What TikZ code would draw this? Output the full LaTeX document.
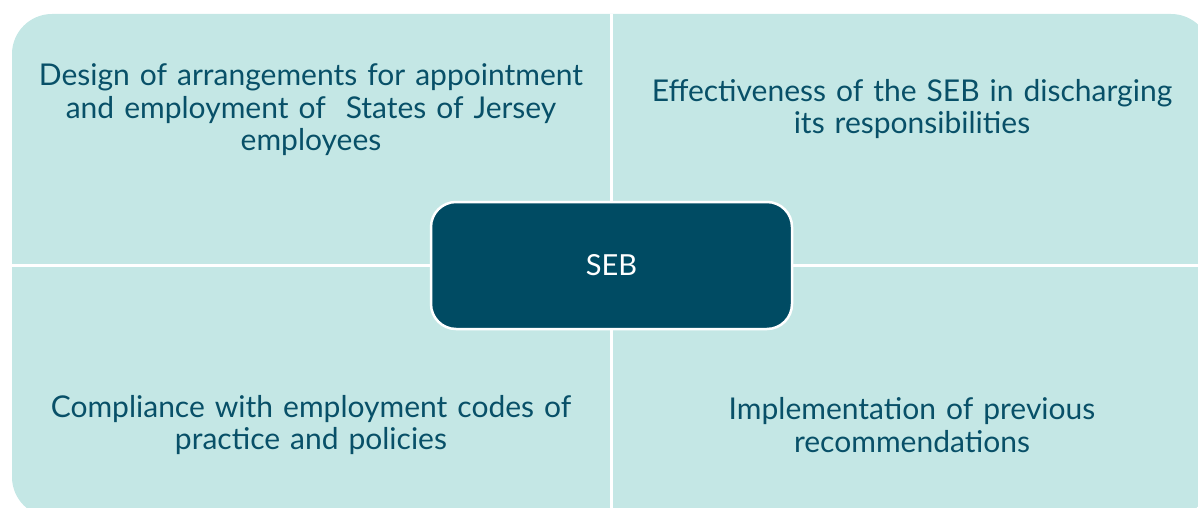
\documentclass[tikz,border=0pt]{standalone}
\usepackage{fontspec}
\setmainfont{Lato}
\usepackage{xcolor}
\usepackage{tikz}
\usetikzlibrary{positioning}
\definecolor{sebpale}{RGB}{196,231,229}
\definecolor{sebdark}{RGB}{0,75,99}
\definecolor{sebtext}{RGB}{8,80,104}

\begin{document}
\begin{tikzpicture}[
    x=1pt,
    y=-1pt,
    font=\fontsize{30}{32.5}\selectfont,
    panel/.style={fill=sebpale, rounded corners=40pt, minimum width=1199pt, minimum height=503pt, inner sep=0pt},
    gap/.style={draw=white, line width=3pt},
    quadtext/.style={text=sebtext, align=center, text width=580pt},
    hub/.style={fill=sebdark, draw=white, line width=2.5pt, rounded corners=25pt, minimum width=361pt, minimum height=127pt, text=white, font=\fontsize{29}{32}\selectfont}
]
\useasboundingbox (0,0) rectangle (1198,508);
\clip (0,0) rectangle (1198,508);
% one rounded panel, split into four by white gaps
\node[panel] (panel) at (611.5,265.5) {};
\draw[gap] (panel.north) -- (panel.south);
\draw[gap] (panel.west) -- (panel.east);
\node[quadtext] (tltext) at (311,110) {Design of arrangements for appointment\\and employment of\ \ States of Jersey\\employees};
\node[quadtext] (trtext) at (912,109) {Effectiveness of the SEB in discharging\\its responsibilities};
\node[quadtext] (bltext) at (311,425) {Compliance with employment codes of\\practice and policies};
\node[quadtext] (brtext) at (912,425) {Implementation of previous\\recommendations};
% centre box
\node[hub] (seb) at (611.5,265.5) {SEB};
\end{tikzpicture}
\end{document}
